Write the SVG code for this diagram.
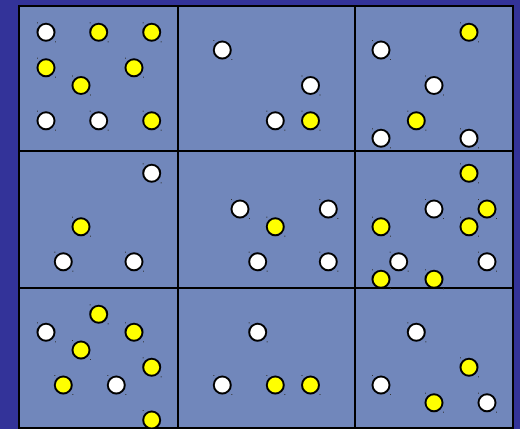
<svg xmlns="http://www.w3.org/2000/svg" width="520" height="429" viewBox="0 0 520 429">
<style>
.cell{fill:#7187BB;stroke:#000;stroke-width:2}
.w{fill:#fff;stroke:#000;stroke-width:2}
.y{fill:#ff0;stroke:#000;stroke-width:2}
.h{fill:#333}
</style>
<defs>
<g id="hd"><rect class="h" x="-9" y="-10" width="1" height="1"/><rect class="h" x="9" y="9" width="1" height="1"/></g>
</defs>
<rect width="520" height="429" fill="#333399"/>
<g id="grid">
<rect class="cell" x="19" y="6" width="159" height="145"/>
<rect class="cell" x="178" y="6" width="177" height="145"/>
<rect class="cell" x="355" y="6" width="158" height="145"/>
<rect class="cell" x="19" y="151" width="159" height="137"/>
<rect class="cell" x="178" y="151" width="177" height="137"/>
<rect class="cell" x="355" y="151" width="158" height="137"/>
<rect class="cell" x="19" y="288" width="159" height="140"/>
<rect class="cell" x="178" y="288" width="177" height="140"/>
<rect class="cell" x="355" y="288" width="158" height="140"/>
</g>
<g id="cell1">
<circle class="w" cx="46" cy="32.3" r="8.5"/><use href="#hd" x="46" y="32.3"/>
<circle class="y" cx="98.7" cy="32.3" r="8.5"/><use href="#hd" x="98.7" y="32.3"/>
<circle class="y" cx="151.7" cy="32.3" r="8.5"/><use href="#hd" x="151.7" y="32.3"/>
<circle class="y" cx="46" cy="67.7" r="8.5"/><use href="#hd" x="46" y="67.7"/>
<circle class="y" cx="134" cy="67.7" r="8.5"/><use href="#hd" x="134" y="67.7"/>
<circle class="y" cx="81" cy="85.5" r="8.5"/><use href="#hd" x="81" y="85.5"/>
<circle class="w" cx="46" cy="120.7" r="8.5"/><use href="#hd" x="46" y="120.7"/>
<circle class="w" cx="98.7" cy="120.7" r="8.5"/><use href="#hd" x="98.7" y="120.7"/>
<circle class="y" cx="151.7" cy="120.7" r="8.5"/><use href="#hd" x="151.7" y="120.7"/>
</g>
<g id="cell2">
<circle class="w" cx="222.3" cy="50" r="8.5"/><use href="#hd" x="222.3" y="50"/>
<circle class="w" cx="310.5" cy="85.5" r="8.5"/><use href="#hd" x="310.5" y="85.5"/>
<circle class="w" cx="275.3" cy="120.7" r="8.5"/><use href="#hd" x="275.3" y="120.7"/>
<circle class="y" cx="310.5" cy="120.7" r="8.5"/><use href="#hd" x="310.5" y="120.7"/>
</g>
<g id="cell3">
<circle class="y" cx="469" cy="32.3" r="8.5"/><use href="#hd" x="469" y="32.3"/>
<circle class="w" cx="381" cy="50" r="8.5"/><use href="#hd" x="381" y="50"/>
<circle class="w" cx="434" cy="85.5" r="8.5"/><use href="#hd" x="434" y="85.5"/>
<circle class="y" cx="416.3" cy="120.7" r="8.5"/><use href="#hd" x="416.3" y="120.7"/>
<circle class="w" cx="381" cy="138.3" r="8.5"/><use href="#hd" x="381" y="138.3"/>
<circle class="w" cx="469" cy="138.3" r="8.5"/><use href="#hd" x="469" y="138.3"/>
</g>
<g id="cell4">
<circle class="w" cx="151.7" cy="173.3" r="8.5"/><use href="#hd" x="151.7" y="173.3"/>
<circle class="y" cx="81" cy="226.7" r="8.5"/><use href="#hd" x="81" y="226.7"/>
<circle class="w" cx="63.3" cy="261.7" r="8.5"/><use href="#hd" x="63.3" y="261.7"/>
<circle class="w" cx="134" cy="261.7" r="8.5"/><use href="#hd" x="134" y="261.7"/>
</g>
<g id="cell5">
<circle class="w" cx="240" cy="209" r="8.5"/><use href="#hd" x="240" y="209"/>
<circle class="w" cx="328.3" cy="209" r="8.5"/><use href="#hd" x="328.3" y="209"/>
<circle class="y" cx="275.3" cy="226.7" r="8.5"/><use href="#hd" x="275.3" y="226.7"/>
<circle class="w" cx="257.7" cy="261.7" r="8.5"/><use href="#hd" x="257.7" y="261.7"/>
<circle class="w" cx="328.3" cy="261.7" r="8.5"/><use href="#hd" x="328.3" y="261.7"/>
</g>
<g id="cell6">
<circle class="y" cx="469" cy="173.3" r="8.5"/><use href="#hd" x="469" y="173.3"/>
<circle class="w" cx="434" cy="209" r="8.5"/><use href="#hd" x="434" y="209"/>
<circle class="y" cx="487" cy="209" r="8.5"/><use href="#hd" x="487" y="209"/>
<circle class="y" cx="381" cy="226.7" r="8.5"/><use href="#hd" x="381" y="226.7"/>
<circle class="y" cx="469" cy="226.7" r="8.5"/><use href="#hd" x="469" y="226.7"/>
<circle class="w" cx="398.7" cy="261.7" r="8.5"/><use href="#hd" x="398.7" y="261.7"/>
<circle class="w" cx="487" cy="261.7" r="8.5"/><use href="#hd" x="487" y="261.7"/>
<circle class="y" cx="381" cy="279.3" r="8.5"/><use href="#hd" x="381" y="279.3"/>
<circle class="y" cx="434" cy="279.3" r="8.5"/><use href="#hd" x="434" y="279.3"/>
</g>
<g id="cell7">
<circle class="y" cx="98.7" cy="314.3" r="8.5"/><use href="#hd" x="98.7" y="314.3"/>
<circle class="w" cx="46" cy="332.3" r="8.5"/><use href="#hd" x="46" y="332.3"/>
<circle class="y" cx="134" cy="332.3" r="8.5"/><use href="#hd" x="134" y="332.3"/>
<circle class="y" cx="81" cy="350" r="8.5"/><use href="#hd" x="81" y="350"/>
<circle class="y" cx="151.7" cy="367.3" r="8.5"/><use href="#hd" x="151.7" y="367.3"/>
<circle class="y" cx="63.3" cy="385" r="8.5"/><use href="#hd" x="63.3" y="385"/>
<circle class="w" cx="116.3" cy="385" r="8.5"/><use href="#hd" x="116.3" y="385"/>
<circle class="y" cx="151.7" cy="420" r="8.5"/><use href="#hd" x="151.7" y="420"/>
</g>
<g id="cell8">
<circle class="w" cx="257.7" cy="332.3" r="8.5"/><use href="#hd" x="257.7" y="332.3"/>
<circle class="w" cx="222.3" cy="385" r="8.5"/><use href="#hd" x="222.3" y="385"/>
<circle class="y" cx="275.3" cy="385" r="8.5"/><use href="#hd" x="275.3" y="385"/>
<circle class="y" cx="310.5" cy="385" r="8.5"/><use href="#hd" x="310.5" y="385"/>
</g>
<g id="cell9">
<circle class="w" cx="416.3" cy="332.3" r="8.5"/><use href="#hd" x="416.3" y="332.3"/>
<circle class="y" cx="469" cy="367.3" r="8.5"/><use href="#hd" x="469" y="367.3"/>
<circle class="w" cx="381" cy="385" r="8.5"/><use href="#hd" x="381" y="385"/>
<circle class="y" cx="434" cy="402.7" r="8.5"/><use href="#hd" x="434" y="402.7"/>
<circle class="w" cx="487" cy="402.7" r="8.5"/><use href="#hd" x="487" y="402.7"/>
</g>
</svg>
